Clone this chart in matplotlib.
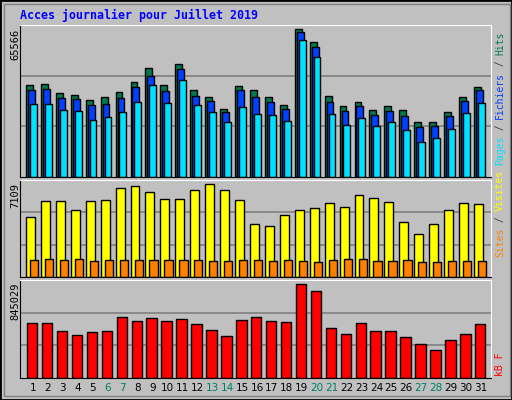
import matplotlib
matplotlib.use("Agg")
import matplotlib.pyplot as plt
import numpy as np

days = list(range(1, 32))
weekend = [6, 7, 13, 14, 20, 21, 27, 28]

hits = [40634, 41079, 37075, 36185, 33961, 35295, 37520, 41969, 48198, 40634, 49977,
        38410, 35295, 29957, 40189, 38410, 35295, 31736, 65566, 59765, 35740, 31291,
        33071, 29512, 31291, 29512, 24173, 24173, 28622, 35295, 39744]
files = [38410, 38855, 34850, 34406, 31736, 32181, 34850, 39744, 44638, 37965, 47753,
         35740, 33516, 28622, 38410, 35295, 33071, 29957, 64215, 57540, 33071, 29067,
         31291, 27287, 29067, 26842, 21948, 22393, 26842, 33516, 38410]
pages = [32181, 32181, 29512, 29067, 25063, 26397, 28622, 33071, 40634, 32626, 42859,
         31736, 28622, 24173, 30846, 27732, 27287, 24618, 60654, 53091, 27732, 22838,
         25953, 22393, 24173, 20614, 15275, 17055, 21059, 28177, 32626]
visits = [4559, 5796, 5796, 5100, 5796, 5873, 6801, 6955, 6491, 5950, 5950, 6646, 7109,
          6646, 5873, 4018, 3864, 4714, 5100, 5255, 5641, 5332, 6259, 6028, 5718, 4173,
          3323, 4018, 5100, 5641, 5564]
sites = [1314, 1391, 1314, 1391, 1237, 1314, 1314, 1314, 1314, 1314, 1314, 1314, 1237,
         1237, 1314, 1314, 1237, 1314, 1237, 1159, 1314, 1391, 1391, 1237, 1237, 1314,
         1159, 1159, 1237, 1237, 1237]
kbytes = [492105, 492105, 427110, 389970, 417825, 427110, 547815, 510675, 538530, 510675,
          529245, 482820, 436395, 380685, 519960, 547815, 510675, 501390, 845029, 779940,
          445680, 399255, 492105, 427110, 427110, 371400, 306405, 250695, 343545, 399255,
          482820]

GRAY = "#c0c0c0"
C_HITS, C_FILES, C_PAGES = "#007850", "#0040ff", "#00e0ff"
C_VIS, C_SITES, C_KB = "#ffff00", "#ff8000", "#ff0000"
GREEN = "#008060"
MONO = "DejaVu Sans Mono"

fig = plt.figure(figsize=(5.12, 4.0), dpi=100, facecolor=GRAY)
x = np.array(days)

def panel(rect, top):
    ax = fig.add_axes(rect, facecolor=GRAY)
    ax.set_xlim(0.13, 31.67)
    ax.set_ylim(0, top)
    for k in (1, 2):
        ax.axhline(top * k / 3, color="#808080", lw=1.2, zorder=0)
    ax.set_xticks([])
    ax.set_yticks([])
    for s in ("top", "right"):
        ax.spines[s].set_color("white")
    for s in ("bottom", "left"):
        ax.spines[s].set_color("black")
    return ax

kw = dict(edgecolor="black", linewidth=1, align="edge")

ax1 = panel([20 / 512, 1 - 177 / 400, 471 / 512, 152 / 400], 67256)
ax1.bar(x - 0.47, hits, 0.46, color=C_HITS, **kw)
ax1.bar(x - 0.34, files, 0.46, color=C_FILES, **kw)
ax1.bar(x - 0.21, pages, 0.46, color=C_PAGES, **kw)

ax2 = panel([20 / 512, 1 - 277 / 400, 471 / 512, 97 / 400], 7418)
ax2.bar(x - 0.47, visits, 0.6, color=C_VIS, **kw)
ax2.bar(x - 0.2, sites, 0.55, color=C_SITES, **kw)

ax3 = panel([20 / 512, 1 - 378 / 400, 471 / 512, 98 / 400], 882000)
ax3.bar(x - 0.4, kbytes, 0.7, color=C_KB, **kw)

for d in days:
    px = 33 + (d - 1) * 14.93
    fig.text(px / 512, 1 - 388 / 400, str(d), ha="center", va="center", fontsize=7.5,
             color=GREEN if d in weekend else "black")

fig.text(20 / 512, 1 - 15 / 400, "Acces journalier pour Juillet 2019", fontsize=8.4,
         family=MONO, weight="bold", color="#0000ff", va="center")

for y0, lab in ((29, str(max(hits))), (183, str(max(visits))), (283, str(max(kbytes)))):
    fig.text(15 / 512, 1 - y0 / 400, lab, rotation=90, ha="center", va="top",
             fontsize=7.5, family=MONO)

def right_label(ybottom, parts):
    pos = 0
    for txt, col in parts:
        fig.text(500 / 512, 1 - (ybottom - pos * 5.8) / 400, txt, rotation=90,
                 ha="center", va="bottom", fontsize=7, family=MONO, color=col)
        pos += len(txt)

right_label(165, [("Pages", C_PAGES), (" / ", "#404040"), ("Fichiers", C_FILES),
                  (" / ", "#404040"), ("Hits", C_HITS)])
right_label(257, [("Sites", C_SITES), (" / ", "#404040"), ("Visites", C_VIS)])
right_label(376, [("kB F", C_KB)])

fig.patches.append(plt.Rectangle((0, 0), 1, 1, transform=fig.transFigure, fill=False,
                                 edgecolor="black", linewidth=2))
fig.patches.append(plt.Rectangle((4 / 512, 4 / 400), 506 / 512, 392 / 400,
                                 transform=fig.transFigure, fill=False,
                                 edgecolor="#808080", linewidth=1))

fig.savefig("out.png", dpi=100, facecolor=GRAY)
